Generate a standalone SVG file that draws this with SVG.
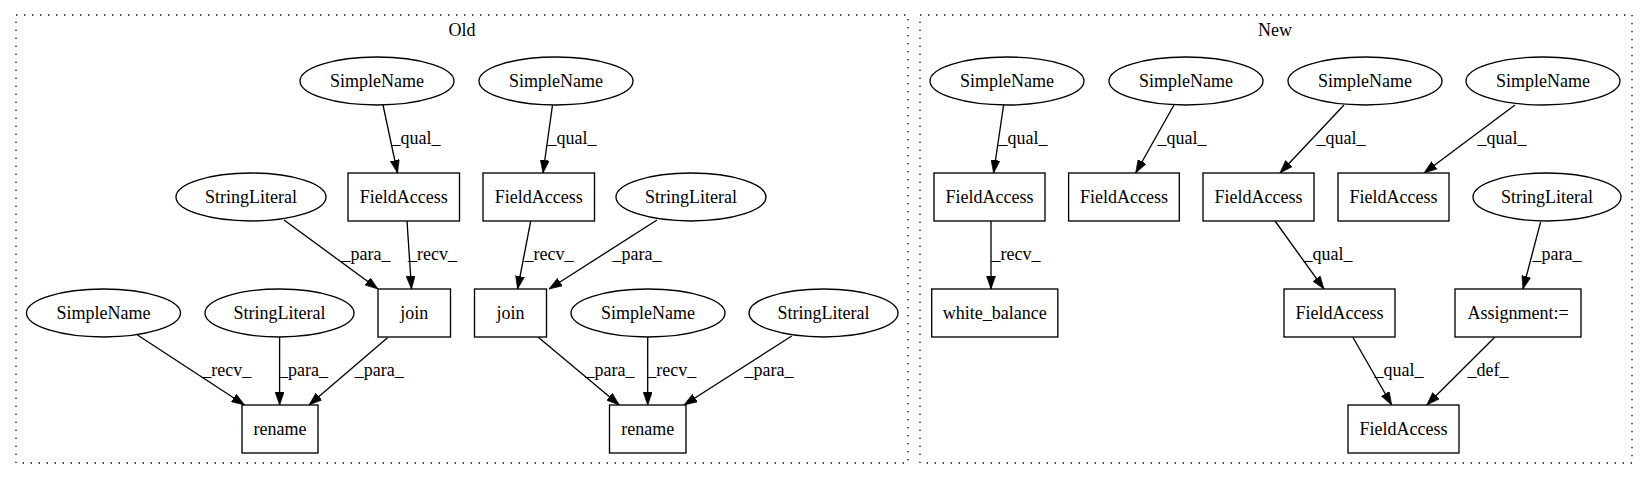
<svg xmlns="http://www.w3.org/2000/svg" width="1648" height="480" viewBox="0 0 1648 480">
<style>
text{font-family:'Liberation Serif','Times New Roman',Times,'DejaVu Serif',serif;font-size:18px;fill:#000}
.n text,.c text{text-anchor:middle}
.n ellipse,.n rect{fill:#fff;stroke:#000;stroke-width:1.33}
.e line{stroke:#000;stroke-width:1.33;marker-end:url(#ah)}
.e text{text-anchor:middle}
.cl{fill:none;stroke:#000;stroke-width:1.33;stroke-dasharray:1.33,6.67}
</style>
<defs>
<marker id="ah" viewBox="0 0 10 7" refX="10" refY="3.5" markerWidth="13" markerHeight="9.5" markerUnits="userSpaceOnUse" orient="auto">
<path d="M0,0 L10,3.5 L0,7 Z" fill="#000" stroke="#000" stroke-width="0.5"/>
</marker>
</defs>
<rect width="1648" height="480" fill="#fff"/>
<g id="clusters" class="c">
<rect class="cl" x="16" y="15" width="892" height="448"/>
<text x="462" y="36">Old</text>
<rect class="cl" x="920" y="15" width="712" height="448"/>
<text x="1275" y="36">New</text>
</g>
<g id="connectors" class="e">
<line x1="383" y1="105" x2="397.5" y2="173"/><text x="416" y="144">_qual_</text>
<line x1="552.5" y1="105" x2="543" y2="173"/><text x="572" y="144">_qual_</text>
<line x1="284" y1="220" x2="378" y2="289"/><text x="366" y="260">_para_</text>
<line x1="407" y1="221" x2="411.5" y2="289"/><text x="432.5" y="260">_recv_</text>
<line x1="530.7" y1="221" x2="517.6" y2="289"/><text x="549" y="260">_recv_</text>
<line x1="657" y1="220" x2="549" y2="289"/><text x="637" y="260">_para_</text>
<line x1="137.5" y1="335" x2="244.6" y2="405"/><text x="226.8" y="376">_recv_</text>
<line x1="279.6" y1="337" x2="279.6" y2="405"/><text x="303.6" y="376">_para_</text>
<line x1="387.5" y1="337.7" x2="309" y2="405"/><text x="379.3" y="376">_para_</text>
<line x1="538.3" y1="337.3" x2="619.3" y2="405"/><text x="610" y="376">_para_</text>
<line x1="647.7" y1="337" x2="647.7" y2="405"/><text x="671.7" y="376">_recv_</text>
<line x1="791.7" y1="336" x2="684" y2="405"/><text x="769" y="376">_para_</text>
<line x1="1003.6" y1="105" x2="993.6" y2="173"/><text x="1023" y="144">_qual_</text>
<line x1="1174" y1="105" x2="1135.7" y2="173"/><text x="1182" y="144">_qual_</text>
<line x1="1344" y1="105" x2="1280" y2="173"/><text x="1341" y="144">_qual_</text>
<line x1="1515" y1="105" x2="1424" y2="173"/><text x="1502" y="144">_qual_</text>
<line x1="991" y1="221" x2="991" y2="289"/><text x="1016" y="260">_recv_</text>
<line x1="1275" y1="221" x2="1324" y2="289"/><text x="1328" y="260">_qual_</text>
<line x1="1540.7" y1="221.7" x2="1523" y2="289"/><text x="1557" y="260">_para_</text>
<line x1="1352.7" y1="337" x2="1391.7" y2="405"/><text x="1399" y="376">_qual_</text>
<line x1="1495" y1="337" x2="1426.7" y2="405"/><text x="1488" y="376">_def_</text>
</g>
<g id="o_sn1" class="n"><ellipse cx="377" cy="81" rx="77" ry="24"/><text x="377" y="87">SimpleName</text></g>
<g id="o_sn2" class="n"><ellipse cx="556" cy="81" rx="77" ry="24"/><text x="556" y="87">SimpleName</text></g>
<g id="o_fa1" class="n"><rect x="348" y="173" width="111.5" height="48"/><text x="403.8" y="203">FieldAccess</text></g>
<g id="o_fa2" class="n"><rect x="483" y="173" width="111.5" height="48"/><text x="538.8" y="203">FieldAccess</text></g>
<g id="o_sl1" class="n"><ellipse cx="251" cy="197" rx="75" ry="24"/><text x="251" y="203">StringLiteral</text></g>
<g id="o_sl2" class="n"><ellipse cx="691" cy="197" rx="75" ry="24"/><text x="691" y="203">StringLiteral</text></g>
<g id="o_join1" class="n"><rect x="378" y="289" width="72.5" height="48"/><text x="414.2" y="319">join</text></g>
<g id="o_join2" class="n"><rect x="474.5" y="289" width="72" height="48"/><text x="510.5" y="319">join</text></g>
<g id="o_sn3" class="n"><ellipse cx="103.5" cy="313" rx="77" ry="24"/><text x="103.5" y="319">SimpleName</text></g>
<g id="o_sl3" class="n"><ellipse cx="279.5" cy="313" rx="74.5" ry="24"/><text x="279.5" y="319">StringLiteral</text></g>
<g id="o_sn4" class="n"><ellipse cx="648" cy="313" rx="77" ry="24"/><text x="648" y="319">SimpleName</text></g>
<g id="o_sl4" class="n"><ellipse cx="823.5" cy="313" rx="74.5" ry="24"/><text x="823.5" y="319">StringLiteral</text></g>
<g id="o_rename1" class="n"><rect x="242" y="405" width="76" height="48"/><text x="280" y="435">rename</text></g>
<g id="o_rename2" class="n"><rect x="609.5" y="405" width="76.5" height="48"/><text x="647.7" y="435">rename</text></g>
<g id="n_sn1" class="n"><ellipse cx="1007" cy="81" rx="77" ry="24"/><text x="1007" y="87">SimpleName</text></g>
<g id="n_sn2" class="n"><ellipse cx="1186" cy="81" rx="77" ry="24"/><text x="1186" y="87">SimpleName</text></g>
<g id="n_sn3" class="n"><ellipse cx="1365" cy="81" rx="77" ry="24"/><text x="1365" y="87">SimpleName</text></g>
<g id="n_sn4" class="n"><ellipse cx="1543" cy="81" rx="77" ry="24"/><text x="1543" y="87">SimpleName</text></g>
<g id="n_fa1" class="n"><rect x="934" y="173" width="111" height="48"/><text x="989.5" y="203">FieldAccess</text></g>
<g id="n_fa2" class="n"><rect x="1068.6" y="173" width="110.7" height="48"/><text x="1124" y="203">FieldAccess</text></g>
<g id="n_fa3" class="n"><rect x="1203" y="173" width="111" height="48"/><text x="1258.5" y="203">FieldAccess</text></g>
<g id="n_fa4" class="n"><rect x="1338" y="173" width="111" height="48"/><text x="1393.5" y="203">FieldAccess</text></g>
<g id="n_sl" class="n"><ellipse cx="1547" cy="197" rx="74" ry="24"/><text x="1547" y="203">StringLiteral</text></g>
<g id="n_wb" class="n"><rect x="931.7" y="289" width="126.1" height="48"/><text x="994.7" y="319">white_balance</text></g>
<g id="n_fa5" class="n"><rect x="1284" y="289" width="111" height="48"/><text x="1339.5" y="319">FieldAccess</text></g>
<g id="n_assign" class="n"><rect x="1455" y="289" width="126" height="48"/><text x="1518" y="319">Assignment:=</text></g>
<g id="n_fa6" class="n"><rect x="1348" y="405" width="111" height="48"/><text x="1403.5" y="435">FieldAccess</text></g>
</svg>
